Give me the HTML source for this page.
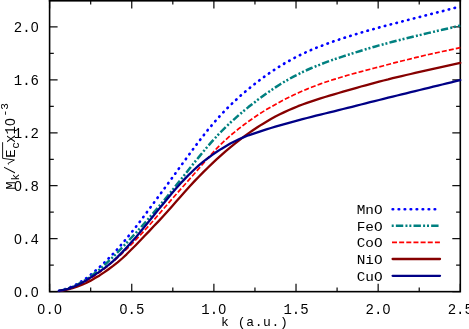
<!DOCTYPE html>
<html><head><meta charset="utf-8"><style>html,body{margin:0;padding:0;background:#fff;overflow:hidden}svg{display:block;will-change:transform}text{font-family:"Liberation Mono",monospace;fill:#000}</style></head><body>
<svg width="469" height="329" viewBox="0 0 469 329">
<rect width="469" height="329" fill="#fff"/>
<path d="M49.60,291.65 v-8 M49.60,0.4 v8 M90.67,291.65 v-4.2 M90.67,0.4 v4.2 M131.74,291.65 v-8 M131.74,0.4 v8 M172.81,291.65 v-4.2 M172.81,0.4 v4.2 M213.88,291.65 v-8 M213.88,0.4 v8 M254.95,291.65 v-4.2 M254.95,0.4 v4.2 M296.02,291.65 v-8 M296.02,0.4 v8 M337.09,291.65 v-4.2 M337.09,0.4 v4.2 M378.16,291.65 v-8 M378.16,0.4 v8 M419.23,291.65 v-4.2 M419.23,0.4 v4.2 M460.30,291.65 v-8 M460.30,0.4 v8 M49.6,291.65 h8 M460.3,291.65 h-8 M49.6,265.17 h4.2 M460.3,265.17 h-4.2 M49.6,238.70 h8 M460.3,238.70 h-8 M49.6,212.22 h4.2 M460.3,212.22 h-4.2 M49.6,185.74 h8 M460.3,185.74 h-8 M49.6,159.26 h4.2 M460.3,159.26 h-4.2 M49.6,132.79 h8 M460.3,132.79 h-8 M49.6,106.31 h4.2 M460.3,106.31 h-4.2 M49.6,79.83 h8 M460.3,79.83 h-8 M49.6,53.35 h4.2 M460.3,53.35 h-4.2 M49.6,26.88 h8 M460.3,26.88 h-8 M49.6,0.40 h4.2 M460.3,0.40 h-4.2" stroke="#111" stroke-width="1.25" fill="none"/>
<rect x="49.6" y="0.4" width="410.7" height="291.25" fill="none" stroke="#000" stroke-width="1.6"/>
<path d="M48.800000000000004,0.55 H461.1" stroke="#000" stroke-width="1.9" fill="none"/>
<path d="M59.0,290.8 L63.5,289.7 L68.0,288.2 L72.5,286.4 L77.0,284.1 L81.5,281.4 L86.1,278.3 L90.6,274.8 L95.1,271.1 L99.6,267.1 L104.1,262.9 L108.6,258.4 L113.1,253.8 L117.6,248.9 L122.1,243.8 L126.6,238.4 L131.1,232.9 L135.7,227.1 L140.2,221.2 L144.7,215.2 L149.2,209.1 L153.7,203.0 L158.2,196.9 L162.7,190.8 L167.2,184.7 L171.7,178.5 L176.2,172.3 L180.7,166.0 L185.3,159.8 L189.8,153.6 L194.3,147.5 L198.8,141.5 L203.3,135.7 L207.8,130.0 L212.3,124.6 L216.8,119.4 L221.3,114.4 L225.8,109.7 L230.3,105.2 L234.9,100.9 L239.4,96.7 L243.9,92.8 L248.4,89.0 L252.9,85.4 L257.4,81.9 L261.9,78.5 L266.4,75.2 L270.9,72.1 L275.4,69.1 L279.9,66.2 L284.4,63.5 L289.0,60.9 L293.5,58.4 L298.0,56.1 L302.5,53.9 L307.0,51.8 L311.5,49.8 L316.0,47.9 L320.5,46.2 L325.0,44.5 L329.5,42.8 L334.0,41.2 L338.6,39.7 L343.1,38.2 L347.6,36.8 L352.1,35.4 L356.6,34.0 L361.1,32.6 L365.6,31.3 L370.1,30.0 L374.6,28.8 L379.1,27.5 L383.6,26.3 L388.2,25.1 L392.7,23.9 L397.2,22.8 L401.7,21.6 L406.2,20.4 L410.7,19.3 L415.2,18.1 L419.7,17.0 L424.2,15.8 L428.7,14.7 L433.2,13.5 L437.8,12.3 L442.3,11.2 L446.8,10.0 L451.3,8.8 L455.8,7.7 L460.3,6.5" fill="none" stroke="#0000ff" stroke-width="2.65" stroke-linecap="round" stroke-linejoin="round" stroke-dasharray="0.5 5.5"/>
<path d="M59.0,290.9 L63.5,289.9 L68.0,288.6 L72.5,286.9 L77.0,284.9 L81.5,282.4 L86.1,279.6 L90.6,276.5 L95.1,273.1 L99.6,269.4 L104.1,265.4 L108.6,261.2 L113.1,256.9 L117.6,252.3 L122.1,247.7 L126.6,242.9 L131.1,238.0 L135.7,233.1 L140.2,228.0 L144.7,223.0 L149.2,217.8 L153.7,212.6 L158.2,207.3 L162.7,201.9 L167.2,196.5 L171.7,190.9 L176.2,185.3 L180.7,179.6 L185.3,174.0 L189.8,168.3 L194.3,162.6 L198.8,157.1 L203.3,151.6 L207.8,146.3 L212.3,141.2 L216.8,136.2 L221.3,131.5 L225.8,127.0 L230.3,122.7 L234.9,118.6 L239.4,114.6 L243.9,110.8 L248.4,107.1 L252.9,103.6 L257.4,100.1 L261.9,96.8 L266.4,93.5 L270.9,90.4 L275.4,87.4 L279.9,84.5 L284.4,81.7 L289.0,79.1 L293.5,76.6 L298.0,74.3 L302.5,72.1 L307.0,70.0 L311.5,68.0 L316.0,66.2 L320.5,64.4 L325.0,62.7 L329.5,61.0 L334.0,59.4 L338.6,57.9 L343.1,56.4 L347.6,54.9 L352.1,53.5 L356.6,52.1 L361.1,50.7 L365.6,49.3 L370.1,48.0 L374.6,46.7 L379.1,45.4 L383.6,44.2 L388.2,43.0 L392.7,41.8 L397.2,40.6 L401.7,39.5 L406.2,38.4 L410.7,37.3 L415.2,36.2 L419.7,35.1 L424.2,34.0 L428.7,32.9 L433.2,31.9 L437.8,30.8 L442.3,29.8 L446.8,28.7 L451.3,27.7 L455.8,26.6 L460.3,25.6" fill="none" stroke="#008080" stroke-width="2.5" stroke-linecap="butt" stroke-linejoin="round" stroke-dasharray="7.4 2.2 2.0 1.9 2.0 2.15"/>
<path d="M59.0,291.0 L63.5,290.1 L68.0,289.0 L72.5,287.5 L77.0,285.7 L81.5,283.7 L86.1,281.2 L90.6,278.5 L95.1,275.5 L99.6,272.4 L104.1,269.0 L108.6,265.4 L113.1,261.6 L117.6,257.6 L122.1,253.5 L126.6,249.2 L131.1,244.7 L135.7,240.0 L140.2,235.2 L144.7,230.3 L149.2,225.3 L153.7,220.2 L158.2,215.0 L162.7,209.8 L167.2,204.6 L171.7,199.4 L176.2,194.3 L180.7,189.1 L185.3,184.0 L189.8,178.9 L194.3,173.8 L198.8,168.6 L203.3,163.4 L207.8,158.2 L212.3,153.2 L216.8,148.4 L221.3,143.9 L225.8,139.7 L230.3,135.6 L234.9,131.8 L239.4,128.2 L243.9,124.8 L248.4,121.5 L252.9,118.4 L257.4,115.3 L261.9,112.4 L266.4,109.6 L270.9,107.0 L275.4,104.4 L279.9,101.9 L284.4,99.5 L289.0,97.3 L293.5,95.1 L298.0,93.0 L302.5,91.0 L307.0,89.1 L311.5,87.3 L316.0,85.6 L320.5,83.9 L325.0,82.3 L329.5,80.8 L334.0,79.4 L338.6,78.0 L343.1,76.6 L347.6,75.3 L352.1,74.0 L356.6,72.8 L361.1,71.6 L365.6,70.4 L370.1,69.2 L374.6,68.0 L379.1,66.9 L383.6,65.7 L388.2,64.5 L392.7,63.3 L397.2,62.2 L401.7,61.0 L406.2,59.9 L410.7,58.8 L415.2,57.7 L419.7,56.6 L424.2,55.5 L428.7,54.5 L433.2,53.5 L437.8,52.5 L442.3,51.5 L446.8,50.6 L451.3,49.6 L455.8,48.6 L460.3,47.7" fill="none" stroke="#ff0000" stroke-width="1.7" stroke-linecap="butt" stroke-linejoin="round" stroke-dasharray="5 2.15"/>
<path d="M59.0,291.1 L63.5,290.4 L68.0,289.4 L72.5,288.2 L77.0,286.7 L81.5,285.0 L86.1,283.0 L90.6,280.7 L95.1,278.1 L99.6,275.4 L104.1,272.4 L108.6,269.2 L113.1,265.9 L117.6,262.4 L122.1,258.5 L126.6,254.3 L131.1,249.8 L135.7,245.2 L140.2,240.5 L144.7,235.8 L149.2,231.1 L153.7,226.3 L158.2,221.6 L162.7,216.7 L167.2,211.8 L171.7,206.7 L176.2,201.6 L180.7,196.4 L185.3,191.3 L189.8,186.3 L194.3,181.4 L198.8,176.7 L203.3,172.1 L207.8,167.7 L212.3,163.4 L216.8,159.2 L221.3,155.1 L225.8,151.1 L230.3,147.3 L234.9,143.6 L239.4,140.1 L243.9,136.7 L248.4,133.4 L252.9,130.3 L257.4,127.3 L261.9,124.4 L266.4,121.7 L270.9,119.1 L275.4,116.6 L279.9,114.3 L284.4,112.1 L289.0,110.0 L293.5,108.1 L298.0,106.2 L302.5,104.5 L307.0,102.8 L311.5,101.3 L316.0,99.8 L320.5,98.3 L325.0,97.0 L329.5,95.6 L334.0,94.3 L338.6,93.0 L343.1,91.7 L347.6,90.4 L352.1,89.1 L356.6,87.8 L361.1,86.5 L365.6,85.3 L370.1,84.1 L374.6,82.8 L379.1,81.7 L383.6,80.5 L388.2,79.4 L392.7,78.2 L397.2,77.1 L401.7,76.1 L406.2,75.0 L410.7,74.0 L415.2,72.9 L419.7,71.9 L424.2,70.9 L428.7,69.8 L433.2,68.8 L437.8,67.8 L442.3,66.8 L446.8,65.8 L451.3,64.8 L455.8,63.8 L460.3,62.8" fill="none" stroke="#860000" stroke-width="2.3" stroke-linecap="round" stroke-linejoin="round"/>
<path d="M59.0,290.9 L63.5,290.0 L68.0,288.8 L72.5,287.2 L77.0,285.3 L81.5,283.0 L86.1,280.4 L90.6,277.5 L95.1,274.6 L99.6,271.6 L104.1,268.4 L108.6,264.9 L113.1,261.1 L117.6,256.9 L122.1,252.4 L126.6,247.6 L131.1,242.6 L135.7,237.4 L140.2,232.1 L144.7,226.6 L149.2,221.1 L153.7,215.5 L158.2,209.9 L162.7,204.4 L167.2,198.9 L171.7,193.6 L176.2,188.3 L180.7,183.3 L185.3,178.4 L189.8,173.8 L194.3,169.5 L198.8,165.4 L203.3,161.7 L207.8,158.2 L212.3,154.9 L216.8,151.8 L221.3,148.9 L225.8,146.2 L230.3,143.6 L234.9,141.2 L239.4,139.0 L243.9,137.1 L248.4,135.3 L252.9,133.8 L257.4,132.3 L261.9,130.8 L266.4,129.4 L270.9,128.0 L275.4,126.7 L279.9,125.4 L284.4,124.1 L289.0,122.8 L293.5,121.6 L298.0,120.4 L302.5,119.2 L307.0,118.0 L311.5,116.9 L316.0,115.7 L320.5,114.6 L325.0,113.5 L329.5,112.4 L334.0,111.3 L338.6,110.1 L343.1,109.0 L347.6,107.9 L352.1,106.8 L356.6,105.6 L361.1,104.5 L365.6,103.4 L370.1,102.2 L374.6,101.1 L379.1,100.0 L383.6,98.8 L388.2,97.7 L392.7,96.6 L397.2,95.5 L401.7,94.4 L406.2,93.3 L410.7,92.2 L415.2,91.1 L419.7,90.0 L424.2,88.9 L428.7,87.8 L433.2,86.7 L437.8,85.6 L442.3,84.5 L446.8,83.4 L451.3,82.3 L455.8,81.2 L460.3,80.1" fill="none" stroke="#000086" stroke-width="2.3" stroke-linecap="round" stroke-linejoin="round"/>
<text x="49.60" y="313.8" font-size="14" text-anchor="middle">0.0</text><ellipse cx="41.20" cy="309.18" rx="1.25" ry="2.3" fill="#fff"/><ellipse cx="58.00" cy="309.18" rx="1.25" ry="2.3" fill="#fff"/>
<text x="131.74" y="313.8" font-size="14" text-anchor="middle">0.5</text><ellipse cx="123.34" cy="309.18" rx="1.25" ry="2.3" fill="#fff"/>
<text x="213.88" y="313.8" font-size="14" text-anchor="middle">1.0</text><ellipse cx="222.28" cy="309.18" rx="1.25" ry="2.3" fill="#fff"/>
<text x="296.02" y="313.8" font-size="14" text-anchor="middle">1.5</text>
<text x="378.16" y="313.8" font-size="14" text-anchor="middle">2.0</text><ellipse cx="386.56" cy="309.18" rx="1.25" ry="2.3" fill="#fff"/>
<text x="460.30" y="313.8" font-size="14" text-anchor="middle">2.5</text>
<text x="39" y="297.05" font-size="14" text-anchor="end">0.0</text><ellipse cx="18.00" cy="292.43" rx="1.25" ry="2.3" fill="#fff"/><ellipse cx="34.80" cy="292.43" rx="1.25" ry="2.3" fill="#fff"/>
<text x="39" y="244.10" font-size="14" text-anchor="end">0.4</text><ellipse cx="18.00" cy="239.48" rx="1.25" ry="2.3" fill="#fff"/>
<text x="39" y="191.14" font-size="14" text-anchor="end">0.8</text><ellipse cx="18.00" cy="186.52" rx="1.25" ry="2.3" fill="#fff"/>
<text x="39" y="138.19" font-size="14" text-anchor="end">1.2</text>
<text x="39" y="85.23" font-size="14" text-anchor="end">1.6</text>
<text x="39" y="32.28" font-size="14" text-anchor="end">2.0</text><ellipse cx="34.80" cy="27.66" rx="1.25" ry="2.3" fill="#fff"/>
<text x="221.0" y="326" font-size="13" letter-spacing="0.62">k (a.u.)</text>
<g transform="translate(15.1,190) rotate(-90)" font-size="14"><text transform="translate(0.2,0) scale(1,0.9)">M</text><text x="9.5" y="4.1" font-size="11.200000000000001">k</text><text x="15.8" y="0">/</text><text transform="translate(32.3,0) scale(1,0.9)">E</text><text x="41.3" y="4.1" font-size="11.200000000000001">c</text><text x="47.0" y="0">x10</text><ellipse cx="68.00" cy="-4.62" rx="1.25" ry="2.3" fill="#fff"/><text x="73.5" y="-7.4" font-size="11.200000000000001">-3</text><path d="M25.5,-6.6 l1.1,-0.4 l3.4,6.3 l1.7,-11.8 h16.1" fill="none" stroke="#000" stroke-width="0.9"/></g>
<text transform="translate(382.6,213.90) scale(1.03,0.92)" font-size="14" text-anchor="end">MnO</text>
<path d="M392.65,209.2 H438" fill="none" stroke="#0000ff" stroke-width="2.65" stroke-linecap="round" stroke-dasharray="0.5 5.5" stroke-dashoffset="0"/>
<text transform="translate(382.6,230.50) scale(1.03,0.92)" font-size="14" text-anchor="end">FeO</text>
<path d="M391.7,225.8 H440.4" fill="none" stroke="#008080" stroke-width="2.5" stroke-linecap="butt" stroke-dasharray="7.4 2.2 2.0 1.9 2.0 2.15" stroke-dashoffset="13.5"/>
<text transform="translate(382.6,247.10) scale(1.03,0.92)" font-size="14" text-anchor="end">CoO</text>
<path d="M392.0,242.4 H440.4" fill="none" stroke="#ff0000" stroke-width="1.7" stroke-linecap="butt" stroke-dasharray="5 2.15" stroke-dashoffset="0"/>
<text transform="translate(382.6,263.70) scale(1.03,0.92)" font-size="14" text-anchor="end">NiO</text>
<path d="M392.6,259.0 H440.0" fill="none" stroke="#860000" stroke-width="2.3" stroke-linecap="round" stroke-dashoffset="0"/>
<text transform="translate(382.6,280.50) scale(1.03,0.92)" font-size="14" text-anchor="end">CuO</text>
<path d="M392.6,275.8 H440.0" fill="none" stroke="#000086" stroke-width="2.3" stroke-linecap="round" stroke-dashoffset="0"/>
</svg></body></html>
